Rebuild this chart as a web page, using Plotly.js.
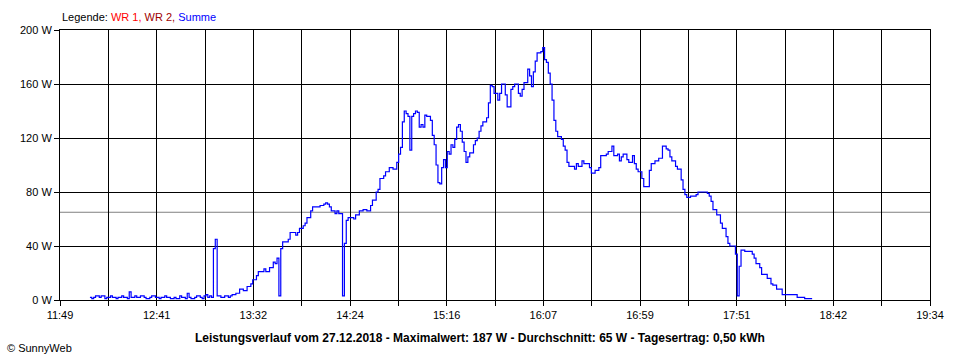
<!DOCTYPE html>
<html>
<head>
<meta charset="utf-8">
<script src="https://cdn.plot.ly/plotly-3.0.1.min.js"></script>
<style>
  html, body { margin: 0; padding: 0; background: #ffffff; }
  #chart { width: 960px; height: 360px; }
</style>
</head>
<body>
<div id="chart"></div>
<script>
// ---- data ----
const axisStart = '11:49';
const axisEnd = '19:34';
const tickLabels = ['11:49', '12:41', '13:32', '14:24', '15:16', '16:07', '16:59', '17:51', '18:42', '19:34'];
const yTicks = [0, 40, 80, 120, 160, 200];
const average = 65;

const times = [
  '12:05','12:06','12:07','12:08','12:10','12:11','12:13','12:14','12:16','12:17',
  '12:19','12:20','12:22','12:23','12:25','12:26','12:27','12:29','12:30','12:32',
  '12:34','12:35','12:37','12:38','12:40','12:42','12:43','12:45','12:46','12:48',
  '12:50','12:51','12:53','12:54','12:56','12:57','12:58','12:59','13:01','13:02',
  '13:04','13:05','13:06','13:07','13:08','13:09','13:10','13:11','13:12','13:13',
  '13:15','13:17','13:19','13:20','13:21','13:23','13:25','13:27','13:29','13:31',
  '13:32','13:34','13:35','13:38','13:39','13:41','13:43','13:44','13:45','13:46',
  '13:47','13:48','13:51','13:52','13:55','13:56','13:57','13:59','14:00','14:01',
  '14:03','14:04','14:08','14:10','14:11','14:12','14:13','14:14','14:16','14:17',
  '14:18','14:20','14:21','14:22','14:23','14:26','14:27','14:29','14:31','14:33',
  '14:35','14:36','14:38','14:39','14:40','14:42','14:43','14:45','14:47','14:49',
  '14:50','14:51','14:52','14:53','14:54','14:55','14:56','14:57','14:58','14:59',
  '15:00','15:01','15:02','15:03','15:04','15:05','15:07','15:08','15:09','15:10',
  '15:11','15:12','15:13','15:14','15:15','15:16','15:17','15:18','15:19','15:20',
  '15:21','15:22','15:23','15:24','15:25','15:26','15:27','15:28','15:30','15:31',
  '15:32','15:33','15:34','15:35','15:37','15:38','15:39','15:40','15:41','15:43',
  '15:44','15:45','15:47','15:48','15:50','15:51','15:52','15:54','15:55','15:56',
  '15:57','15:59','16:00','16:01','16:02','16:03','16:04','16:06','16:07','16:08',
  '16:09','16:10','16:11','16:12','16:13','16:14','16:15','16:17','16:18','16:19',
  '16:20','16:21','16:24','16:25','16:26','16:28','16:29','16:31','16:32','16:33',
  '16:35','16:37','16:38','16:41','16:42','16:44','16:45','16:47','16:48','16:49',
  '16:50','16:52','16:53','16:55','16:56','16:57','16:58','17:00','17:01','17:04',
  '17:05','17:07','17:09','17:11','17:13','17:14','17:15','17:16','17:18','17:19',
  '17:21','17:22','17:23','17:24','17:26','17:29','17:30','17:35','17:36','17:37',
  '17:38','17:40','17:42','17:43','17:45','17:46','17:47','17:50','17:51','17:52',
  '17:53','17:55','17:59','18:00','18:01','18:03','18:04','18:07','18:09','18:10',
  '18:12','18:15','18:23','18:27','18:31'
];

const summe = [
  2,1,2,3,2,3,1,2,3,2,
  1,2,3,2,1,6,2,3,2,3,
  2,1,2,3,2,1,2,3,2,1,
  2,1,3,2,1,5,2,1,2,3,
  2,1,3,4,2,3,2,38,45,3,
  2,3,2,3,4,5,8,7,10,12,
  15,18,21,23,21,24,28,27,31,3,
  38,43,45,50,48,50,53,55,57,61,
  66,69,70,71,72,71,69,66,64,66,
  64,3,42,59,61,60,63,66,67,66,
  70,74,80,82,90,92,95,98,97,102,
  108,113,132,140,138,136,111,136,138,140,
  139,128,130,128,137,136,133,122,115,100,
  87,86,98,104,98,110,108,115,113,119,
  128,130,125,117,110,102,106,109,115,118,
  120,125,129,132,135,146,159,158,153,148,
  153,160,152,143,156,158,160,153,151,156,
  161,171,166,158,169,177,183,184,187,178,
  176,168,160,148,133,125,121,119,114,111,
  102,99,97,101,99,103,101,101,98,94,
  96,98,107,108,110,114,107,108,103,106,
  108,104,102,107,101,97,95,90,84,96,
  101,103,105,114,112,111,106,103,99,97,
  89,82,78,76,77,78,80,79,77,73,
  67,63,57,53,47,42,40,34,3,25,
  37,36,34,31,27,24,19,16,12,11,
  8,4,2,1,1
];

// ---- helpers ----
function toMin(s) { const p = s.split(':'); return (+p[0]) * 60 + (+p[1]); }
const x0 = toMin(axisStart), x1 = toMin(axisEnd);
const nDiv = (tickLabels.length - 1) * 2;
const tickVals = [], tickText = [];
for (let i = 0; i <= nDiv; i++) {
  tickVals.push(x0 + (x1 - x0) * i / nDiv);
  tickText.push(i % 2 === 0 ? tickLabels[i / 2] : '');
}

const FONT = 'Liberation Sans, Arial, sans-serif';

const trace = {
  x: times.map(toMin),
  y: summe,
  type: 'scatter',
  mode: 'lines',
  line: { color: '#0000ff', width: 1.2, shape: 'hv' },
  hoverinfo: 'skip',
  showlegend: false
};

const layout = {
  width: 960, height: 360,
  margin: { l: 60, r: 30, t: 30, b: 60, pad: 0 },
  paper_bgcolor: '#ffffff',
  plot_bgcolor: '#ffffff',
  font: { family: FONT, size: 11, color: '#000000' },
  showlegend: false,
  xaxis: {
    range: [x0, x1],
    tickmode: 'array', tickvals: tickVals, ticktext: tickText,
    showgrid: true, gridcolor: '#000000', gridwidth: 1,
    zeroline: false,
    showline: true, linecolor: '#000000', linewidth: 1, mirror: true,
    ticks: 'outside', ticklen: 5, tickcolor: '#000000', tickwidth: 1,
    tickfont: { family: FONT, size: 11, color: '#000000' },
    fixedrange: true
  },
  yaxis: {
    range: [0, 200],
    tickmode: 'array', tickvals: yTicks, ticktext: yTicks.map(v => v + ' W'),
    showgrid: true, gridcolor: '#000000', gridwidth: 1,
    zeroline: false,
    showline: true, linecolor: '#000000', linewidth: 1, mirror: true,
    ticks: 'outside', ticklen: 5, tickcolor: '#000000', tickwidth: 1,
    tickfont: { family: FONT, size: 11, color: '#000000' },
    fixedrange: true
  },
  shapes: [{
    type: 'line', xref: 'paper', x0: 0, x1: 1, yref: 'y', y0: average, y1: average,
    line: { color: '#808080', width: 1 }, layer: 'below'
  }],
  annotations: [
    {
      xref: 'paper', yref: 'paper', x: 0, y: 1.048, xanchor: 'left', yanchor: 'middle',
      showarrow: false,
      text: 'Legende: <span style="color:#ff0000">WR 1,</span> <span style="color:#a00000">WR 2,</span> <span style="color:#0000ff">Summe</span>',
      font: { family: FONT, size: 11, color: '#000000' }
    },
    {
      xref: 'paper', yref: 'paper', x: 0.4828, y: -0.1407, xanchor: 'center', yanchor: 'middle',
      showarrow: false,
      text: '<b>Leistungsverlauf vom 27.12.2018 - Maximalwert: 187 W - Durchschnitt: 65 W - Tagesertrag: 0,50 kWh</b>',
      font: { family: FONT, size: 12, color: '#000000' }
    },
    {
      xref: 'paper', yref: 'paper', x: -0.0632, y: -0.1778, xanchor: 'left', yanchor: 'middle',
      showarrow: false,
      text: '© SunnyWeb',
      font: { family: FONT, size: 11, color: '#000000' }
    }
  ]
};

Plotly.newPlot('chart', [trace], layout, { displayModeBar: false, staticPlot: true });
</script>
</body>
</html>
